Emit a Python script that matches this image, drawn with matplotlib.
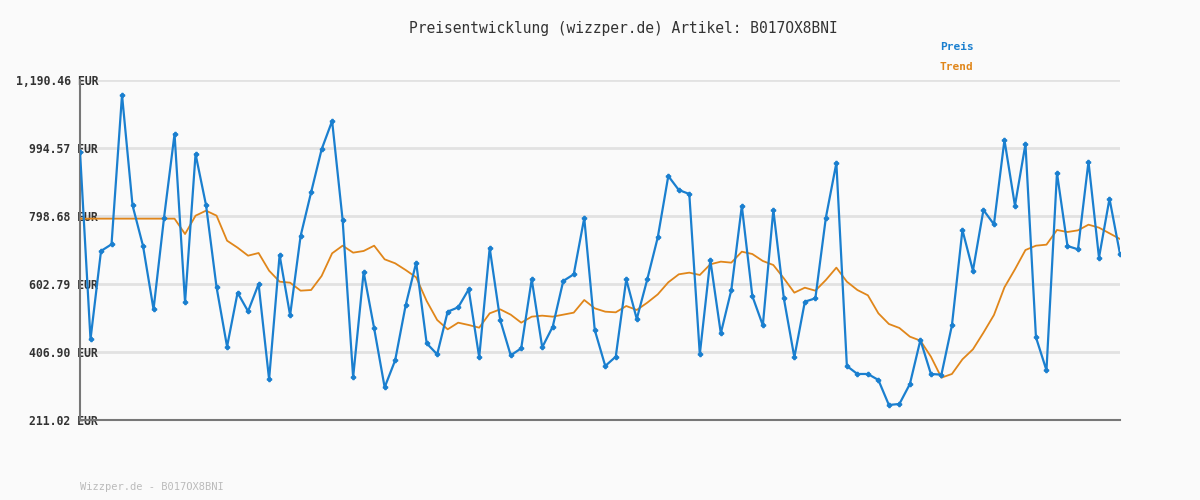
import numpy as np
import matplotlib.pyplot as plt

# Preis (EUR) je Messpunkt
preis = [984.0, 443.4, 697.9, 717.1, 1147.3, 829.4, 712.3, 529.8, 793.9, 1034.9,
         550.0, 977.3, 829.4, 593.2, 422.3, 577.8, 524.1, 602.8, 328.2, 686.3,
         512.6, 741.1, 866.9, 990.7, 1072.4, 787.2, 333.9, 637.4, 475.1, 305.2,
         382.9, 541.4, 664.3, 431.9, 400.2, 523.1, 535.6, 587.4, 391.6, 706.5,
         499.1, 397.3, 417.5, 616.3, 420.4, 479.9, 611.5, 630.7, 793.0, 470.3,
         366.6, 393.5, 616.3, 502.0, 616.3, 737.3, 913.9, 873.6, 862.1, 400.2,
         672.0, 460.7, 585.5, 827.5, 568.2, 483.7, 816.0, 561.5, 391.6, 551.9,
         561.5, 793.9, 951.4, 366.6, 343.6, 343.6, 326.3, 254.3, 257.2, 314.8,
         441.5, 343.6, 341.6, 483.7, 758.4, 641.2, 816.0, 774.7, 1017.6, 828.5,
         1006.1, 449.2, 354.1, 922.6, 712.3, 702.7, 955.2, 678.7, 848.6, 689.2]

# Trend (EUR)
trend = [791.0] * 10 + [
    746.8, 799.6, 814.1, 799.6, 727.6, 707.5, 684.4, 692.1, 641.2, 609.5,
    606.6, 583.6, 585.5, 625.9, 691.2, 713.2, 693.1, 697.9, 713.2, 673.9,
    662.4, 643.1, 622.0, 553.8, 499.1, 472.2, 491.4, 484.7, 477.0, 518.3,
    529.8, 514.5, 491.4, 508.7, 511.6, 508.7, 514.5, 520.3, 556.7, 532.7,
    523.1, 521.2, 539.4, 527.9, 549.0, 573.0, 607.6, 630.7, 635.5, 628.8,
    659.5, 667.2, 664.3, 695.9, 689.2, 669.1, 657.5, 619.1, 577.8, 592.2,
    583.6, 614.3, 649.9, 609.5, 585.5, 570.2, 518.3, 487.6, 476.1, 451.1,
    439.6, 393.5, 333.0, 343.6, 385.8, 414.6, 462.6, 513.5, 593.2, 645.1,
    700.7, 713.2, 716.1, 758.4, 752.6, 757.4, 773.7, 765.1, 748.8, 732.4]

yticks = [211.02, 406.90, 602.79, 798.68, 994.57, 1190.46]

mono = 'DejaVu Sans Mono'
blue = '#1a7fcf'
orange = '#e0861a'

fig = plt.figure(figsize=(12, 5), dpi=100, facecolor='#fafafa')
ax = fig.add_axes([80/1200, 80/500, 1040/1200, 340/500])
ax.set_facecolor('#fafafa')

x = np.arange(len(preis))
ax.plot(x, trend, color=orange, linewidth=1.3, zorder=3)
ax.plot(x, preis, color=blue, linewidth=1.6, marker='P', markersize=3, zorder=4)

ax.set_xlim(0, len(preis) - 1)
ax.set_ylim(yticks[0], yticks[-1])
ax.set_yticks(yticks)
ax.set_yticklabels([f'{v:,.2f} EUR' for v in yticks], fontfamily=mono, fontsize=8.3,
                   fontweight='bold', color='#333333')
ax.set_xticks([])
ax.tick_params(axis='y', length=0, pad=-13)
ax.grid(axis='y', color='#e2e2e2', linewidth=2)
ax.set_axisbelow(True)
for s in ['top', 'right']:
    ax.spines[s].set_visible(False)
for s in ['left', 'bottom']:
    ax.spines[s].set_color('#777777')
    ax.spines[s].set_linewidth(1.5)

fig.text(623/1200, 1 - 28/500, 'Preisentwicklung (wizzper.de) Artikel: B017OX8BNI',
         ha='center', va='center', fontfamily=mono, fontsize=10.5, color='#333333')
fig.text(940/1200, 1 - 47/500, 'Preis', ha='left', va='center', fontfamily=mono,
         fontsize=8, fontweight='bold', color=blue)
fig.text(940/1200, 1 - 67/500, 'Trend', ha='left', va='center', fontfamily=mono,
         fontsize=8, fontweight='bold', color=orange)
fig.text(80/1200, 1 - 487/500, 'Wizzper.de - B017OX8BNI', ha='left', va='center',
         fontfamily=mono, fontsize=7.5, color='#bbbbbb')

fig.savefig('out.png', dpi=100, facecolor=fig.get_facecolor())
